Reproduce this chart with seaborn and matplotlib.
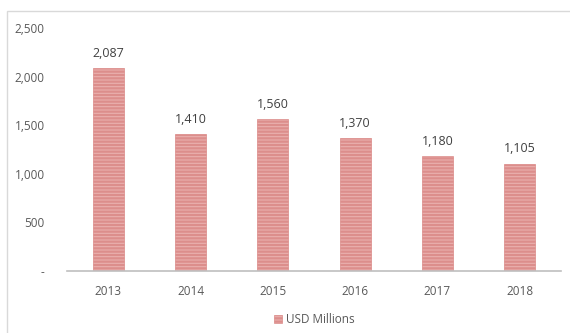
import matplotlib
matplotlib.use("Agg")
import matplotlib.pyplot as plt
import seaborn as sns
import pandas as pd
from matplotlib.patches import Rectangle
from matplotlib.ticker import FuncFormatter

years = ["2013", "2014", "2015", "2016", "2017", "2018"]
values = [2087, 1410, 1560, 1370, 1180, 1105]
series_name = "USD Millions"

df = pd.DataFrame({"Year": years, "Value": values, "Series": series_name})

sns.set_theme(style="white")
plt.rcParams["font.family"] = ["Open Sans", "DejaVu Sans"]
plt.rcParams["hatch.color"] = "#C4504D"
plt.rcParams["hatch.linewidth"] = 1.6

fig = plt.figure(figsize=(5.7, 3.33), dpi=100)
ax = fig.add_axes([67 / 570, 0.186, 494 / 570, 0.730])

sns.barplot(data=df, x="Year", y="Value", hue="Series", ax=ax, width=0.38,
            palette=["#EAB0AE"], edgecolor="#DC8E8C", linewidth=0.5, saturation=1)
for p in ax.patches:
    p.set_hatch("-----")

ax.set_ylim(0, 2500)
ax.set_yticks([0, 500, 1000, 1500, 2000, 2500])
ax.yaxis.set_major_formatter(FuncFormatter(lambda v, _: "-" if v == 0 else f"{int(v):,}"))
ax.set_xlabel("")
ax.set_ylabel("")
for s in ["top", "right", "left"]:
    ax.spines[s].set_visible(False)
ax.spines["bottom"].set_color("#BFBFBF")
ax.spines["bottom"].set_linewidth(1.2)
ax.tick_params(axis="y", colors="#595959", labelsize=8.5, length=0, pad=16)
ax.tick_params(axis="x", colors="#595959", labelsize=8.5, length=0, pad=10)

for cont in ax.containers:
    ax.bar_label(cont, labels=[f"{v:,}" for v in values], padding=6,
                 color="#404040", fontsize=9)

ax.legend(loc="upper center", bbox_to_anchor=(0.5, -0.13), frameon=False,
          fontsize=8.5, handlelength=0.7, handleheight=0.7, labelcolor="#595959",
          handletextpad=0.3)

fig.patches.append(Rectangle((7 / 570, -0.1), 1.2, (333 - 11) / 333 + 0.1,
                             transform=fig.transFigure, fill=False,
                             edgecolor="#D9D9D9", linewidth=1))

fig.savefig("out.png", dpi=100)
